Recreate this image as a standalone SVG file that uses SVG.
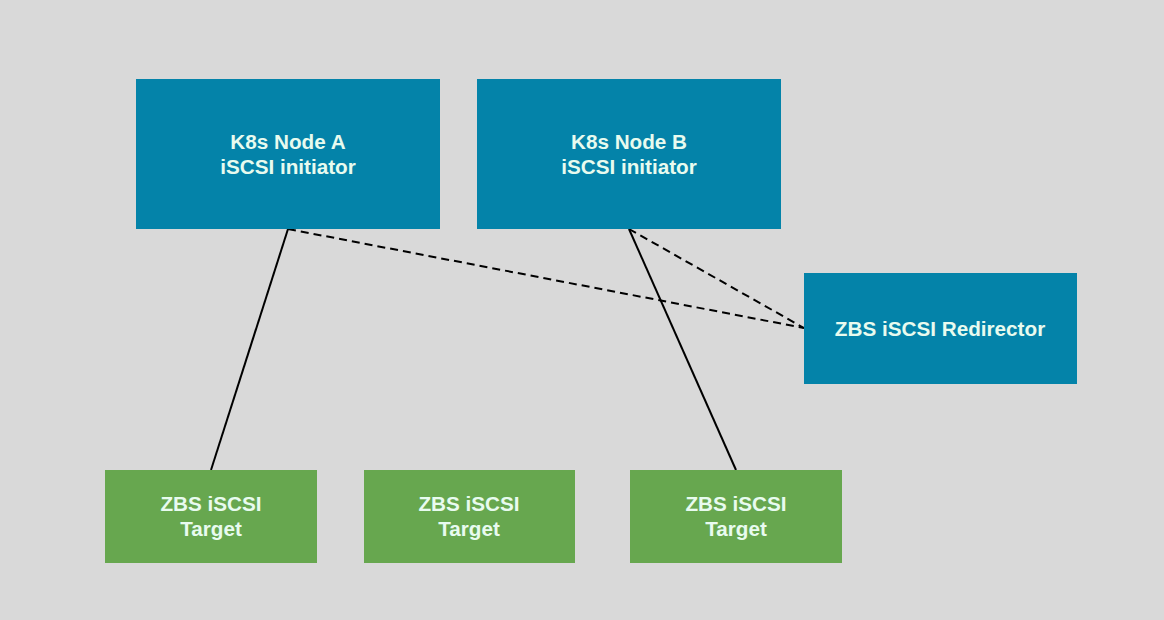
<svg xmlns="http://www.w3.org/2000/svg" width="1164" height="620" viewBox="0 0 1164 620">
<style>
.blue{fill:#0483a9}
.green{fill:#67a74f}
.t{font-family:"Liberation Sans",Arial,sans-serif;font-weight:bold;font-size:20.7px;fill:#e8fbef;text-anchor:middle}
.solid{stroke:#000;stroke-width:2;fill:none}
.dash{stroke:#000;stroke-width:2;fill:none;stroke-dasharray:8 5}
</style>
<rect width="1164" height="620" fill="#d9d9d9"/>
<g id="connectors">
<line class="solid" x1="288" y1="229" x2="211" y2="470"/>
<line class="solid" x1="629" y1="229" x2="736" y2="470"/>
<line class="dash" x1="288" y1="229" x2="804" y2="328"/>
<line class="dash" x1="629" y1="229" x2="804" y2="328"/>
</g>
<g id="nodeA"><rect class="blue" x="136" y="79" width="304" height="150"/><text class="t" x="288" y="149">K8s Node A</text><text class="t" x="288" y="174">iSCSI initiator</text></g>
<g id="nodeB"><rect class="blue" x="477" y="79" width="304" height="150"/><text class="t" x="629" y="149">K8s Node B</text><text class="t" x="629" y="174">iSCSI initiator</text></g>
<g id="redirector"><rect class="blue" x="804" y="273" width="273" height="111"/><text class="t" x="940" y="336">ZBS iSCSI Redirector</text></g>
<g id="target1"><rect class="green" x="105" y="470" width="212" height="93"/><text class="t" x="211" y="511">ZBS iSCSI</text><text class="t" x="211" y="536">Target</text></g>
<g id="target2"><rect class="green" x="364" y="470" width="211" height="93"/><text class="t" x="469" y="511">ZBS iSCSI</text><text class="t" x="469" y="536">Target</text></g>
<g id="target3"><rect class="green" x="630" y="470" width="212" height="93"/><text class="t" x="736" y="511">ZBS iSCSI</text><text class="t" x="736" y="536">Target</text></g>
</svg>
